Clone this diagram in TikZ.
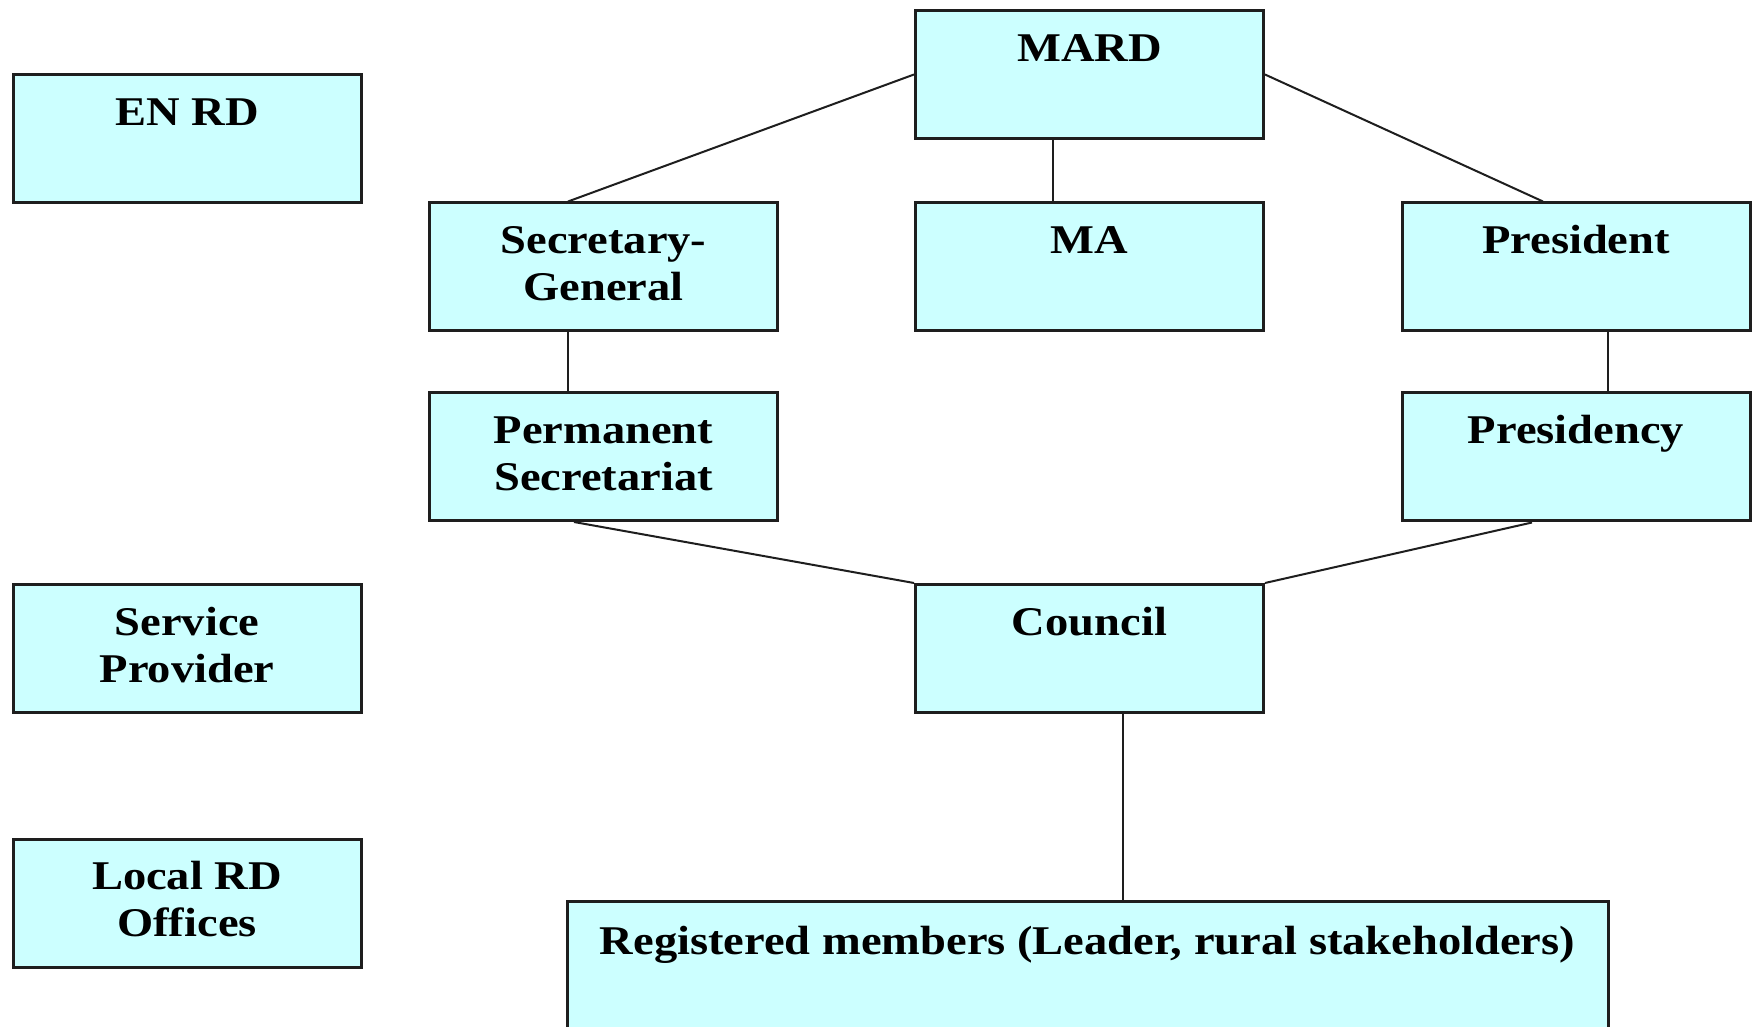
\documentclass[tikz,border=0pt]{standalone}
\usepackage{fontspec}
\setmainfont{Liberation Serif}[FakeStretch=1.14]
\usetikzlibrary{calc}
\definecolor{boxfill}{RGB}{204,255,255}
\definecolor{edge}{RGB}{30,30,30}
\begin{document}
\begin{tikzpicture}[x=0.5pt,y=-0.5pt,
  box/.style={draw=edge, line width=1.5pt, fill=boxfill, minimum width=174pt, minimum height=64pt, inner sep=0pt, anchor=center},
  lbl/.style={anchor=north, inner sep=0pt, align=center, font=\fontsize{20.4pt}{23.5pt}\selectfont\bfseries},
  link/.style={draw=edge, line width=1pt}]
\useasboundingbox (0,0) rectangle (1753,1027);
\fill[white] (0,0) rectangle (1753,1027);
\clip (0,0) rectangle (1753,1027);

% boxes
\node[box] (enrd) at (187,139) {};
\node[box] (mard) at (1089.5,74.5) {};
\node[box] (secgen) at (603.5,267) {};
\node[box] (ma) at (1089.5,267) {};
\node[box] (pres) at (1576,267) {};
\node[box] (permsec) at (603.5,456.5) {};
\node[box] (presy) at (1576,457) {};
\node[box] (serv) at (187,648.5) {};
\node[box] (council) at (1089.5,648.5) {};
\node[box] (local) at (187,903) {};
\node[box, minimum width=520.5pt, minimum height=74pt] (reg) at (1087.5,975) {};

% labels
\node[lbl] (enrdT) at ($(enrd.north)+(0,22)$) {\rule{0pt}{15pt}EN RD};
\node[lbl] (mardT) at ($(mard.north)+(0,22)$) {\rule{0pt}{15pt}MARD};
\node[lbl] (secgenT) at ($(secgen.north)+(0,22)$) {\rule{0pt}{15pt}Secretary-\\General};
\node[lbl] (maT) at ($(ma.north)+(0,22)$) {\rule{0pt}{15pt}MA};
\node[lbl] (presT) at ($(pres.north)+(0,22)$) {\rule{0pt}{15pt}President};
\node[lbl] (permsecT) at ($(permsec.north)+(0,22)$) {\rule{0pt}{15pt}Permanent\\Secretariat};
\node[lbl] (presyT) at ($(presy.north)+(0,22)$) {\rule{0pt}{15pt}Presidency};
\node[lbl] (servT) at ($(serv.north)+(0,22)$) {\rule{0pt}{15pt}Service\\Provider};
\node[lbl] (councilT) at ($(council.north)+(0,22)$) {\rule{0pt}{15pt}Council};
\node[lbl] (localT) at ($(local.north)+(0,22)$) {\rule{0pt}{15pt}Local RD\\Offices};
\node[lbl] (regT) at ($(reg.north)+(0,25)$) {\rule{0pt}{15pt}Registered members (Leader, rural stakeholders)};

% connectors
\draw[link] (mard.west) -- ($(secgen.north)+(-35.5,0)$);
\draw[link] (mard.east) -- ($(pres.north)+(-33,0)$);
\draw[link] ($(mard.south)+(-36.5,0)$) -- ($(ma.north)+(-36.5,0)$);
\draw[link] ($(secgen.south)+(-35.5,0)$) -- ($(permsec.north)+(-35.5,0)$);
\draw[link] ($(pres.south)+(32,0)$) -- ($(presy.north)+(32,0)$);
\draw[link] ($(permsec.south)+(-29.5,0)$) -- (council.north west);
\draw[link] ($(presy.south)+(-44,0)$) -- (council.north east);
\draw[link] ($(council.south)+(33.5,0)$) -- ($(reg.north)+(35.5,0)$);
\end{tikzpicture}
\end{document}
